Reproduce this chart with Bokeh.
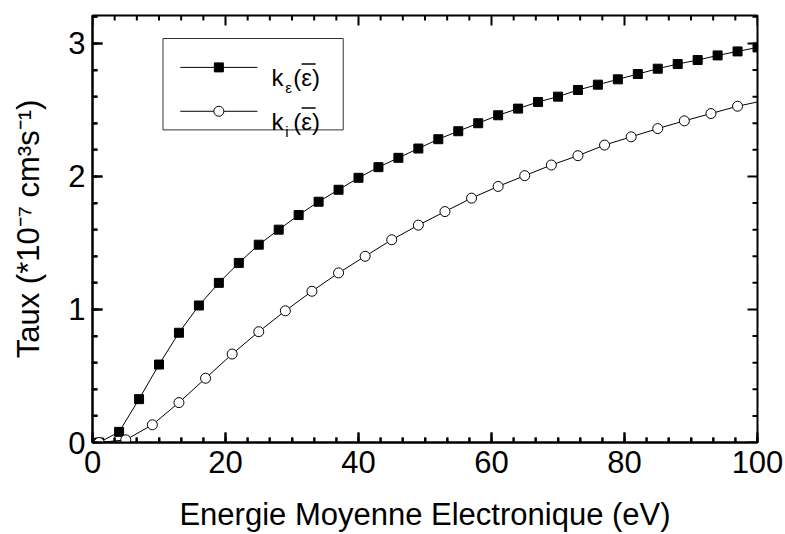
from bokeh.plotting import figure
from bokeh.models import SingleIntervalTicker, Range1d
from bokeh.core.properties import value
from bokeh.embed import file_html
from bokeh.resources import INLINE

# ---------------- data ----------------
energy_ke = [1, 4, 7, 10, 13, 16, 19, 22, 25, 28, 31, 34, 37, 40, 43, 46, 49,
             52, 55, 58, 61, 64, 67, 70, 73, 76, 79, 82, 85, 88, 91, 94, 97, 100]
k_eps = [0.0, 0.08, 0.326, 0.586, 0.825, 1.03, 1.20, 1.35, 1.487, 1.60, 1.71,
         1.81, 1.90, 1.99, 2.07, 2.14, 2.21, 2.28, 2.34, 2.40, 2.46, 2.51, 2.56,
         2.60, 2.65, 2.69, 2.73, 2.77, 2.81, 2.845, 2.875, 2.91, 2.94, 2.97]

energy_ki = [1, 5, 9, 13, 17, 21, 25, 29, 33, 37, 41, 45, 49, 53, 57, 61, 65,
             69, 73, 77, 81, 85, 89, 93, 97]
k_ion = [0.0, 0.02, 0.133, 0.30, 0.483, 0.665, 0.833, 0.99, 1.137, 1.275, 1.40,
         1.524, 1.634, 1.736, 1.837, 1.925, 2.006, 2.086, 2.156, 2.236, 2.298,
         2.36, 2.418, 2.473, 2.528]
# the k_i curve continues (without marker) to the edge of the plot
energy_ki_curve = energy_ki + [100]
k_ion_curve = k_ion + [2.56]

x_label = "Energie Moyenne Electronique (eV)"
y_label = "Taux (*10\u207b\u2077 cm\u00b3s\u207b\u00b9)"
X_MIN, X_MAX = 0, 100
Y_MIN, Y_MAX = 0, 3.21
x_major, x_minor_n = 20, 6
y_major, y_minor_n = 1, 5

FONT = "Liberation Sans"
W, H = 785, 534
B_LEFT, B_RIGHT, B_TOP, B_BOTTOM = 92, 28, 15, 90

p = figure(width=W, height=H, output_backend="svg", toolbar_location=None,
           x_range=Range1d(X_MIN, X_MAX), y_range=Range1d(Y_MIN, Y_MAX),
           min_border_left=B_LEFT, min_border_right=B_RIGHT,
           min_border_top=B_TOP, min_border_bottom=B_BOTTOM)
p.grid.visible = False
p.outline_line_color = "black"
p.outline_line_width = 2

MAJOR_LEN, MINOR_LEN = 10, 5

for ax in (p.xaxis[0], p.yaxis[0]):
    ax.axis_line_color = "black"
    ax.axis_line_width = 2
    ax.major_tick_line_color = "black"
    ax.major_tick_line_width = 2
    ax.minor_tick_line_color = "black"
    ax.minor_tick_line_width = 2
    ax.major_tick_in = MAJOR_LEN
    ax.minor_tick_in = MINOR_LEN
    ax.major_tick_out = 0
    ax.minor_tick_out = 0
    ax.major_label_text_font = FONT
    ax.major_label_text_font_size = "31px"
    ax.major_label_text_color = "black"
    ax.axis_label_text_font = FONT
    ax.axis_label_text_font_size = "31px"
    ax.axis_label_text_font_style = "normal"
    ax.axis_label_text_color = "black"

xax = p.xaxis[0]
xax.ticker = SingleIntervalTicker(interval=x_major, num_minor_ticks=x_minor_n)
xax.axis_label = x_label
xax.major_label_standoff = 8
xax.axis_label_standoff = 21

yax = p.yaxis[0]
yax.ticker = SingleIntervalTicker(interval=y_major, num_minor_ticks=y_minor_n)
yax.axis_label = y_label
yax.major_label_standoff = 7
yax.axis_label_standoff = 19

# ---------------- inward ticks on all four sides, as filled screen-size rects ----------------
# a rect centred on the frame edge is clipped to the frame, so half of it shows inside
n_x = int(round((X_MAX - X_MIN) / x_major * x_minor_n))
x_all = [X_MIN + i * x_major / x_minor_n for i in range(n_x + 1)]
x_h = [(2 * MAJOR_LEN if i % x_minor_n == 0 else 2 * MINOR_LEN) for i in range(n_x + 1)]
n_y = int((Y_MAX - Y_MIN) / y_major * y_minor_n + 1e-9)
y_all = [Y_MIN + i * y_major / y_minor_n for i in range(n_y + 1)]
y_w = [(2 * MAJOR_LEN if i % y_minor_n == 0 else 2 * MINOR_LEN) for i in range(n_y + 1)]

for edge in (Y_MIN, Y_MAX):
    p.rect(x=x_all, y=[edge] * len(x_all), width=[2] * len(x_all), height=x_h,
           width_units="screen", height_units="screen",
           fill_color="black", line_color=None)
for edge in (X_MIN, X_MAX):
    p.rect(x=[edge] * len(y_all), y=y_all, width=y_w, height=[2] * len(y_all),
           width_units="screen", height_units="screen",
           fill_color="black", line_color=None)

# ---------------- series ----------------
p.line(energy_ke, k_eps, line_color="black", line_width=1)
p.scatter(energy_ke, k_eps, marker="square", size=9, fill_color="black",
          line_color="black", line_width=1)
p.line(energy_ki_curve, k_ion_curve, line_color="black", line_width=1)
p.scatter(energy_ki, k_ion, marker="circle", size=10, fill_color="white",
          line_color="black", line_width=1)

# ---------------- legend (decoration, drawn with glyphs in data units) ----------------
leg = dict(left=10.6, right=37.7, top=3.037, bottom=2.35,
           x0=13.2, x1=24.8, xm=19.0, y1=2.82, y2=2.49,
           tx=26.9, sx=29.0, px=30.2, b1=2.745, b2=2.415,
           bar0=31.45, bar1=33.55, bar_dy=0.10)
p.quad(left=[leg["left"]], right=[leg["right"]], top=[leg["top"]],
       bottom=[leg["bottom"]], fill_color=None, line_color="#333333", line_width=1)
p.line([leg["x0"], leg["x1"]], [leg["y1"], leg["y1"]], line_color="black", line_width=1)
p.scatter([leg["xm"]], [leg["y1"]], marker="square", size=9, fill_color="black",
          line_color="black")
p.line([leg["x0"], leg["x1"]], [leg["y2"], leg["y2"]], line_color="black", line_width=1)
p.scatter([leg["xm"]], [leg["y2"]], marker="circle", size=10, fill_color="white",
          line_color="black")

bases = [leg["b1"], leg["b2"]]
subs = ["\u03b5", "i"]
p.text(x=[leg["tx"]] * 2, y=bases, text=["k", "k"], text_font=value(FONT),
       text_font_size=value("24px"), text_baseline="alphabetic", text_color="black")
p.text(x=[leg["sx"]] * 2, y=[b - 0.075 for b in bases], text=subs,
       text_font=value(FONT), text_font_size=value("15px"),
       text_baseline="alphabetic", text_color="black")
p.text(x=[leg["px"]] * 2, y=bases, text=["(\u03b5)", "(\u03b5)"],
       text_font=value(FONT), text_font_size=value("24px"),
       text_baseline="alphabetic", text_color="black")
p.segment(x0=[leg["bar0"]] * 2, y0=[b + leg["bar_dy"] for b in bases],
          x1=[leg["bar1"]] * 2, y1=[b + leg["bar_dy"] for b in bases],
          line_color="black", line_width=1.5)

open("out.html", "w").write(file_html(p, INLINE))
